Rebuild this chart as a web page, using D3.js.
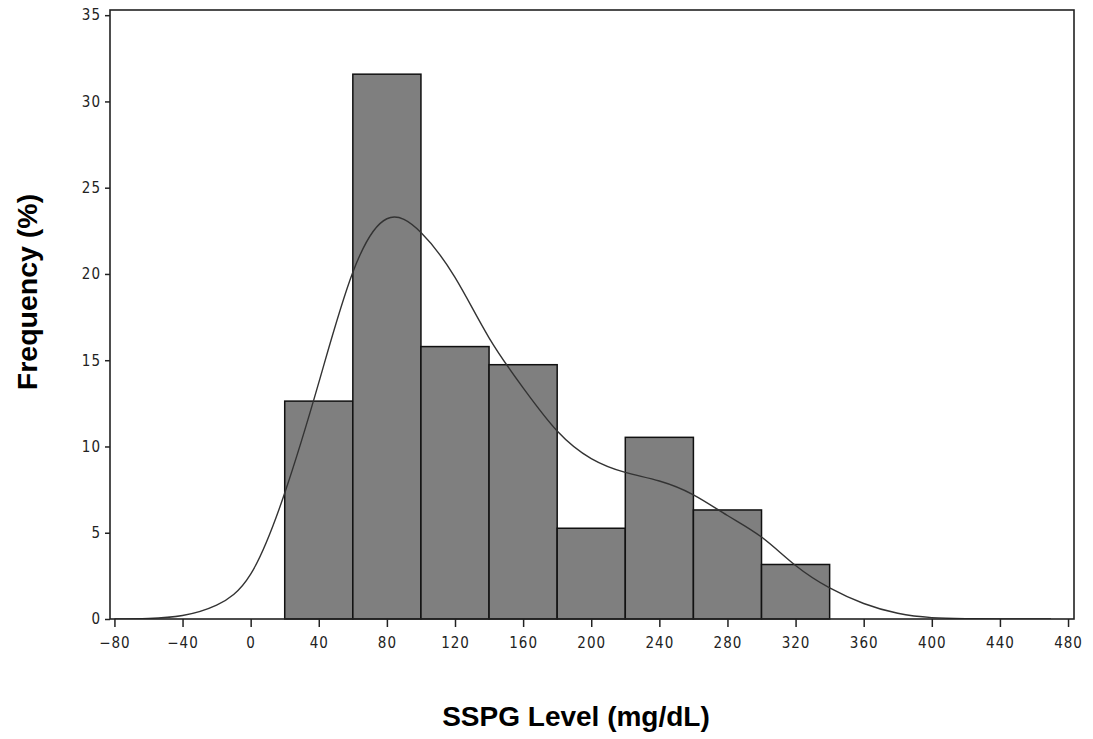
<!DOCTYPE html>
<html>
<head>
<meta charset="utf-8">
<script src="https://cdn.jsdelivr.net/npm/d3@7"></script>
<style>
  html, body { margin: 0; padding: 0; background: #fff; }
  #container { width: 1093px; height: 739px; }
</style>
</head>
<body>
<div id="container"></div>
<script>
// histogram bins (lower / upper edges) and percent per bin
const binStart = [20, 60, 100, 140, 180, 220, 260, 300];
const binEnd = [60, 100, 140, 180, 220, 260, 300, 340];
const binPercent = [12.63, 31.58, 15.79, 14.74, 5.26, 10.53, 6.32, 3.16];

// kernel density curve, every 20 mg/dL
const densityX = [-80, -60, -40, -20, 0, 20, 40, 60, 80, 100, 120, 140, 160, 180, 200, 220, 240, 260, 280, 300, 320, 340, 360, 380, 400, 420, 440, 470];
const densityY = [0, 0.03, 0.2, 0.8, 2.6, 7.3, 13.7, 20.1, 23.2, 22.4, 19.8, 16.3, 13.4, 10.9, 9.3, 8.5, 8.0, 7.2, 6.0, 4.75, 3.1, 1.8, 0.9, 0.33, 0.08, 0.02, 0, 0];

const xTicks = [-80, -40, 0, 40, 80, 120, 160, 200, 240, 280, 320, 360, 400, 440, 480];
const yTicks = [0, 5, 10, 15, 20, 25, 30, 35];

const width = 1093, height = 739;
const plot = { left: 110, right: 1074, top: 10, bottom: 619 };
const tickFont = '"DejaVu Sans Condensed", "DejaVu Sans", sans-serif';

let viz = d3.select('#container')
    .append('svg')
    .attr('width', width)
    .attr('height', height)
    .style('background', '#fff');

let x = d3.scaleLinear().domain([-82.6, 483.5]).range([plot.left, plot.right]);
let y = d3.scaleLinear().domain([0, 35.3]).range([plot.bottom, plot.top]);

// bars
viz.append('g')
    .selectAll('rect')
    .data(binPercent)
    .enter()
    .append('rect')
    .attr('x', (d, i) => x(binStart[i]))
    .attr('width', (d, i) => x(binEnd[i]) - x(binStart[i]))
    .attr('y', d => y(d))
    .attr('height', d => y(0) - y(d))
    .attr('fill', '#7f7f7f')
    .attr('stroke', '#111')
    .attr('stroke-width', 1.5);

// density line (clipped to the plot so the spline tails never dip under the axis)
let line = d3.line()
    .x(d => x(d[0]))
    .y(d => y(d[1]))
    .curve(d3.curveNatural);

viz.append('clipPath')
    .attr('id', 'plotClip')
    .append('rect')
    .attr('x', plot.left)
    .attr('y', plot.top)
    .attr('width', plot.right - plot.left)
    .attr('height', plot.bottom - plot.top);

viz.append('path')
    .datum(densityX.map((v, i) => [v, densityY[i]]))
    .attr('d', line)
    .attr('clip-path', 'url(#plotClip)')
    .attr('fill', 'none')
    .attr('stroke', '#333')
    .attr('stroke-width', 1.4);

// frame
viz.append('rect')
    .attr('x', plot.left)
    .attr('y', plot.top)
    .attr('width', plot.right - plot.left)
    .attr('height', plot.bottom - plot.top)
    .attr('fill', 'none')
    .attr('stroke', '#222')
    .attr('stroke-width', 1.6);

// axes
let xAxis = viz.append('g')
    .attr('transform', `translate(0,${plot.bottom})`)
    .call(d3.axisBottom(x).tickValues(xTicks).tickSize(8).tickPadding(10).tickFormat(d => String(d).replace('-', '\u2212')));

let yAxis = viz.append('g')
    .attr('transform', `translate(${plot.left},0)`)
    .call(d3.axisLeft(y).tickValues(yTicks).tickSize(5).tickPadding(4));

[xAxis, yAxis].forEach(ax => {
    ax.select('.domain').remove();
    ax.selectAll('line').attr('stroke', '#222').attr('stroke-width', 1.5);
    ax.selectAll('text')
        .attr('font-family', tickFont)
        .attr('font-size', 15)
        .attr('letter-spacing', 1)
        .attr('fill', '#222');
});

// axis titles
viz.append('text')
    .text('SSPG Level (mg/dL)')
    .attr('x', 576)
    .attr('y', 726)
    .attr('text-anchor', 'middle')
    .attr('font-family', '"Liberation Sans", Arial, sans-serif')
    .attr('font-weight', 'bold')
    .attr('font-size', 28)
    .attr('fill', '#000');

viz.append('text')
    .text('Frequency (%)')
    .attr('transform', 'translate(37,292) rotate(-90)')
    .attr('text-anchor', 'middle')
    .attr('font-family', '"Liberation Sans", Arial, sans-serif')
    .attr('font-weight', 'bold')
    .attr('font-size', 28.5)
    .attr('fill', '#000');
</script>
</body>
</html>
